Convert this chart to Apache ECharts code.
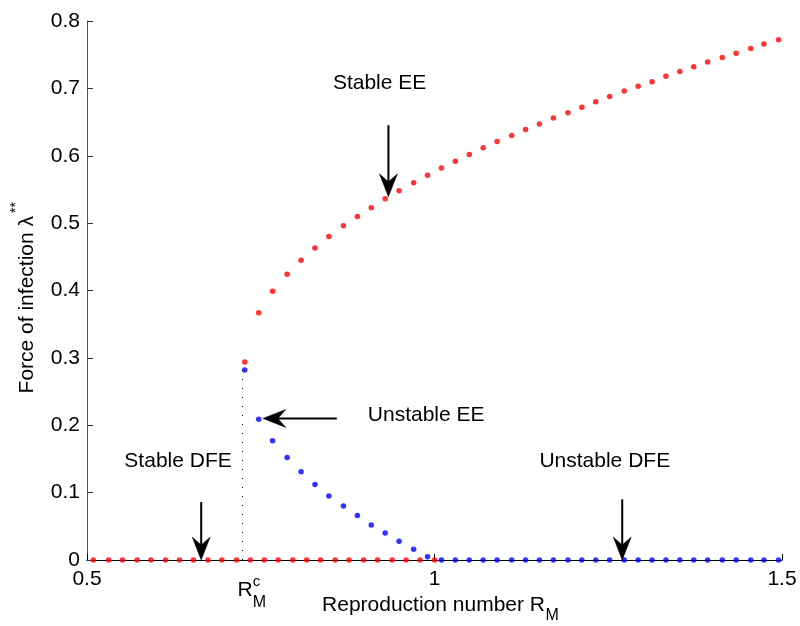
<!DOCTYPE html>
<html><head><meta charset="utf-8">
<script src="https://cdn.jsdelivr.net/npm/echarts@6/dist/echarts.min.js"></script>
<style>html,body{margin:0;padding:0;background:#fff}#c{width:800px;height:626px}</style>
</head><body><div id="c"></div>
<script>
// ---- data ----
const dfeStableR = [0.509,0.531,0.551,0.572,0.592,0.613,0.633,0.653,0.674,0.694,0.715,0.735,0.755,0.775,0.796,0.816,0.836,0.857,0.877,0.898,0.918,0.939,0.959,0.979,1.000];
const dfeStableL = [0,0,0,0,0,0,0,0,0,0,0,0,0,0,0,0,0,0,0,0,0,0,0,0,0];
const eeStableR = [0.727,0.747,0.767,0.788,0.808,0.828,0.848,0.869,0.889,0.909,0.929,0.949,0.970,0.990,1.010,1.030,1.050,1.070,1.090,1.111,1.131,1.151,1.171,1.192,1.212,1.232,1.252,1.273,1.293,1.313,1.333,1.353,1.373,1.393,1.414,1.434,1.455,1.474,1.495];
const eeStableL = [0.294,0.367,0.399,0.424,0.445,0.463,0.480,0.496,0.510,0.523,0.536,0.548,0.560,0.571,0.582,0.592,0.602,0.612,0.621,0.630,0.639,0.647,0.656,0.664,0.672,0.680,0.688,0.696,0.703,0.710,0.718,0.725,0.732,0.739,0.746,0.752,0.759,0.766,0.772];
const eeUnstableR = [0.727,0.747,0.767,0.788,0.808,0.828,0.848,0.869,0.889,0.909,0.929,0.949,0.970,0.990];
const eeUnstableL = [0.282,0.209,0.177,0.152,0.131,0.112,0.095,0.080,0.066,0.052,0.040,0.028,0.016,0.005];
const dfeUnstableR = [1.010,1.030,1.050,1.070,1.090,1.111,1.131,1.151,1.171,1.192,1.212,1.232,1.252,1.273,1.293,1.313,1.333,1.353,1.373,1.393,1.414,1.434,1.455,1.474,1.495];
const dfeUnstableL = [0,0,0,0,0,0,0,0,0,0,0,0,0,0,0,0,0,0,0,0,0,0,0,0,0];
const xTickValues = [0.5, 1, 1.5];
const yTickValues = [0, 0.1, 0.2, 0.3, 0.4, 0.5, 0.6, 0.7, 0.8];
const rCritical = 0.724;
const rCriticalTop = 0.283;
const annotations = [
  {text: 'Stable EE',   at: [0.921, 0.7077], from: [0.9337, 0.6454], to: [0.9337, 0.539]},
  {text: 'Unstable EE', at: [0.988, 0.215],  from: [0.8595, 0.2102], to: [0.753, 0.2102]},
  {text: 'Stable DFE',  at: [0.631, 0.146],  from: [0.6643, 0.086],  to: [0.6643, 0.0]},
  {text: 'Unstable DFE',at: [1.245, 0.146],  from: [1.2701, 0.090],  to: [1.2701, 0.0]}
];

const FONT = '"Liberation Sans", Arial, Helvetica, sans-serif';
const FS = 21;
const zip = (a, b) => a.map((v, i) => [v, b[i]]);

const chart = echarts.init(document.getElementById('c'), null, {renderer: 'canvas'});
const dot = (name, color, data) => ({
  name, type: 'scatter', data, symbol: 'circle', symbolSize: 5.5,
  itemStyle: {color}, silent: true, animation: false, z: 3
});

chart.setOption({
  backgroundColor: '#fff',
  animation: false,
  grid: {left: 87, right: 18, top: 21, bottom: 66},
  xAxis: {
    type: 'value', min: xTickValues[0], max: xTickValues[xTickValues.length - 1],
    interval: xTickValues[1] - xTickValues[0],
    axisLine: {lineStyle: {color: '#000', width: 1.2}},
    axisTick: {inside: true, length: 6, lineStyle: {color: '#000'}},
    axisLabel: {fontSize: FS, color: '#000', margin: 9, fontFamily: FONT},
    splitLine: {show: false}
  },
  yAxis: {
    type: 'value', min: yTickValues[0], max: yTickValues[yTickValues.length - 1],
    interval: 0.1,
    axisLine: {show: true, lineStyle: {color: '#555', width: 1}},
    axisTick: {show: true, inside: true, length: 6, lineStyle: {color: '#333'}},
    axisLabel: {fontSize: FS, color: '#000', margin: 7, fontFamily: FONT},
    splitLine: {show: false}
  },
  series: [
    Object.assign(dot('Stable DFE', '#ff0000', zip(dfeStableR, dfeStableL)), {
      markLine: {
        silent: true, symbol: 'none', animation: false,
        lineStyle: {color: '#000', type: [1, 8], width: 1},
        label: {show: false},
        data: [[{coord: [rCritical, 0]}, {coord: [rCritical, rCriticalTop]}]]
      }
    }),
    dot('Unstable DFE', '#0000ff', zip(dfeUnstableR, dfeUnstableL)),
    dot('Unstable EE', '#0000ff', zip(eeUnstableR, eeUnstableL)),
    dot('Stable EE', '#ff0000', zip(eeStableR, eeStableL))
  ]
});

function px(p) { return chart.convertToPixel({gridIndex: 0}, p); }
function arrow(from, to) {
  const a = px(from), b = px(to);
  const dx = b[0] - a[0], dy = b[1] - a[1];
  const len = Math.hypot(dx, dy);
  const ux = dx / len, uy = dy / len, nx = -uy, ny = ux;
  const L = 23, W = 9, N = 15;
  const back = [b[0] - ux * L, b[1] - uy * L];
  const notch = [b[0] - ux * N, b[1] - uy * N];
  return [
    {type: 'line', silent: true, z: 10,
     shape: {x1: a[0], y1: a[1], x2: notch[0], y2: notch[1]},
     style: {stroke: '#000', lineWidth: 2}},
    {type: 'polygon', silent: true, z: 10,
     shape: {points: [b, [back[0] + nx * W, back[1] + ny * W], notch, [back[0] - nx * W, back[1] - ny * W]]},
     style: {fill: '#000', stroke: '#000', lineWidth: 0.5}}
  ];
}

const g = [];
annotations.forEach(an => {
  const t = px(an.at);
  g.push({type: 'text', x: t[0], y: t[1], silent: true, z: 10,
    style: {text: an.text, fontSize: FS, fontFamily: FONT, fill: '#000', align: 'center', verticalAlign: 'middle'}});
  arrow(an.from, an.to).forEach(e => g.push(e));
});

// critical R label under the axis
const rc = px([rCritical, 0]);
g.push({type: 'text', x: rc[0] + 10, y: rc[1] + 30, silent: true,
  style: {text: 'R', fontSize: FS, fontFamily: FONT, fill: '#000', align: 'right', verticalAlign: 'middle'}});
g.push({type: 'text', x: rc[0] + 10, y: rc[1] + 22, silent: true,
  style: {text: 'c', fontSize: 15, fontFamily: FONT, fill: '#000', align: 'left', verticalAlign: 'middle'}});
g.push({type: 'text', x: rc[0] + 10, y: rc[1] + 43, silent: true,
  style: {text: 'M', fontSize: 16, fontFamily: FONT, fill: '#000', align: 'left', verticalAlign: 'middle'}});

// x axis title
g.push({type: 'text', x: 545, y: 605, silent: true,
  style: {text: 'Reproduction number R', fontSize: FS, fontFamily: FONT, fill: '#000', align: 'right', verticalAlign: 'middle'}});
g.push({type: 'text', x: 545.5, y: 616, silent: true,
  style: {text: 'M', fontSize: 16, fontFamily: FONT, fill: '#000', align: 'left', verticalAlign: 'middle'}});

// y axis title
g.push({type: 'text', x: 27, y: 216, rotation: Math.PI / 2, silent: true,
  style: {text: 'Force of infection λ', fontSize: FS, fontFamily: FONT, fill: '#000', align: 'right', verticalAlign: 'middle'}});
g.push({type: 'text', x: 16, y: 213, rotation: Math.PI / 2, silent: true,
  style: {text: '**', fontSize: 14, fontFamily: FONT, fill: '#000', align: 'left', verticalAlign: 'middle'}});

chart.setOption({graphic: {elements: g}});
</script>
</body></html>
